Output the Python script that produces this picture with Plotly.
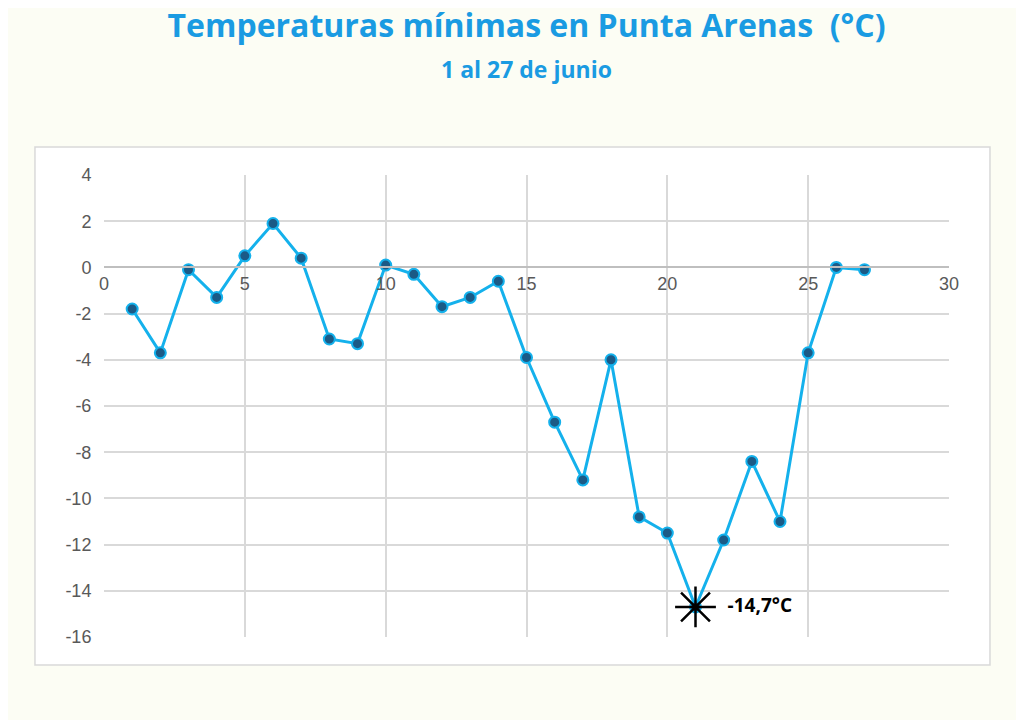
import plotly.graph_objects as go

days = list(range(1, 28))
temps = [-1.8, -3.7, -0.1, -1.3, 0.5, 1.9, 0.4, -3.1, -3.3, 0.1, -0.3, -1.7, -1.3, -0.6,
         -3.9, -6.7, -9.2, -4.0, -10.8, -11.5, -14.7, -11.8, -8.4, -11.0, -3.7, 0.0, -0.1]
min_day, min_val, min_label = 21, -14.7, "-14,7°C"
y_ticks = list(range(-16, 5, 2))
y_ticktext = [str(v) for v in y_ticks]

fig = go.Figure()
fig.add_trace(go.Scatter(x=days, y=temps, mode="lines+markers",
                         line=dict(color="#14b1ec", width=3),
                         marker=dict(size=11, color="#1b5a86", line=dict(color="#14b1ec", width=2)),
                         showlegend=False))
fig.add_trace(go.Scatter(x=[min_day], y=[min_val], mode="markers+text",
                         marker=dict(symbol="asterisk-open", size=34, color="black",
                                     line=dict(color="black", width=2.5)),
                         text=["  " + min_label], textposition="middle right",
                         textfont=dict(family="Open Sans", size=19, color="black", weight="bold"),
                         showlegend=False))

fig.add_shape(type="rect", xref="paper", yref="paper", x0=-0.0817, x1=1.0485, y0=-0.0606, y1=1.0606,
              fillcolor="white", line=dict(color="#d9d9d9", width=1.5), layer="below")

fig.update_layout(
    width=1024, height=720, paper_bgcolor="#fcfdf4", plot_bgcolor="white",
    margin=dict(l=96, r=83, t=167, b=91),
    title=dict(text="<b>Temperaturas mínimas en Punta Arenas  (°C)</b><br><span style='font-size:23px'><b>1 al 27 de junio</b></span>",
               x=0.5, xref="paper", xanchor="center", y=0.96, yanchor="top",
               font=dict(family="Open Sans", size=32, color="#1a9be2")),
    xaxis=dict(range=[0, 30], dtick=5, showgrid=True, gridcolor="#d9d9d9", gridwidth=1.5,
               anchor="free", position=(0 + 16) / 20, showline=True, linecolor="#bfbfbf", linewidth=2,
               zeroline=False, tickfont=dict(family="Liberation Sans", size=18, color="#595959"),
               ticks="outside", ticklen=0),
    yaxis=dict(range=[-16, 4], tickvals=y_ticks, ticktext=y_ticktext, showgrid=True,
               gridcolor="#d9d9d9", gridwidth=1.5,
               zeroline=False, tickfont=dict(family="Liberation Sans", size=18, color="#595959"),
               ticks="outside", ticklen=8, tickcolor="rgba(0,0,0,0)"),
)
fig.write_html("out.html")
